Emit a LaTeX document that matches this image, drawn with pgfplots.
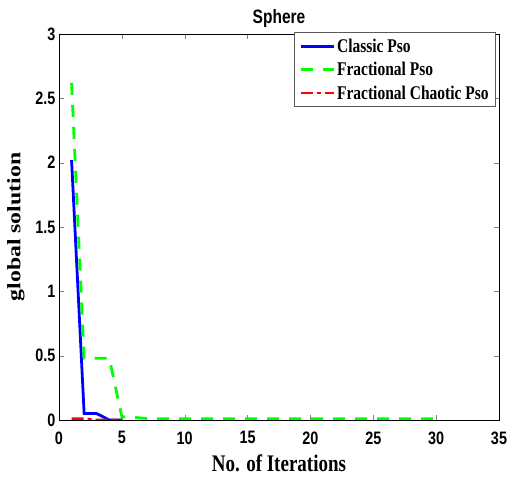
\documentclass[border=0pt]{standalone}
\usepackage{fontspec}
\setmainfont{Liberation Serif}
\setsansfont{Liberation Sans}
\usepackage{graphicx}
\usepackage{pgfplots}
\pgfplotsset{compat=1.18}
\newcommand{\vs}[1]{\scalebox{1}[1.25]{#1}}
\begin{document}
\begin{tikzpicture}
\begin{axis}[
  scale only axis,
  width=440bp, height=386bp,
  xmin=0, xmax=35, ymin=0, ymax=3,
  xtick={0,5,...,35}, ytick={0,0.5,...,3},
  tick align=inside,
  tick pos=both,
  axis line style={line width=0.8pt},
  major tick length=5bp,
  tick label style={font=\fontsize{14.4bp}{16bp}\sffamily\bfseries},
  /pgf/number format/assume math mode=true,
  xticklabel={\vs{\pgfmathprintnumber{\tick}}},
  yticklabel={\vs{\pgfmathprintnumber[fixed]{\tick}}},
  xticklabel style={yshift=-8bp},
  title={\fontsize{15.5bp}{17bp}\sffamily\bfseries\vs{Sphere}},
  title style={yshift=-3bp},
  xlabel={\fontsize{19bp}{21bp}\rmfamily\bfseries\vs{No. of Iterations}},
  ylabel={\fontsize{19bp}{21bp}\rmfamily\bfseries\scalebox{1.25}[1]{global solution}},
  xlabel style={yshift=-4bp},
  ylabel style={yshift=4bp},
  legend style={at={(rel axis cs:0.993,1.004)}, anchor=north east, font=\fontsize{15.5bp}{17bp}\rmfamily\bfseries, draw=gray!70!black, line width=0.6pt, row sep=4.5bp, inner xsep=5bp, inner ysep=4bp},
  legend cell align=left,
  legend image code/.code={\draw[#1, line width=2.8pt] (0bp,0bp) -- (33bp,0bp);},
]
\addplot[blue, line width=2.8pt] coordinates {(1,2.02) (2,0.05) (3,0.05) (4,0.0) (5,0.0)};
\addlegendentry{\vs{Classic Pso}}
\addplot[green, line width=2.8pt, dash pattern=on 12bp off 10bp] coordinates {(1,2.62) (2,0.48) (3,0.48) (4,0.48) (5,0.025) (6,0.02) (7,0.012) (8,0.01) (10,0.01) (15,0.01) (20,0.01) (25,0.01) (30,0.01)};
\addlegendentry{\vs{Fractional Pso}}
\addplot[red, line width=2.8pt, dash pattern=on 12bp off 4bp on 4bp off 4bp] coordinates {(1,0.01) (2,0.01) (3,0.0) (4,0.0) (5,0.0)};
\addlegendentry{\vs{Fractional Chaotic Pso}}
\end{axis}
\path ([shift={(-59bp,-63bp)}]current axis.south west) rectangle ([shift={(12bp,34bp)}]current axis.north east);
\end{tikzpicture}
\end{document}
